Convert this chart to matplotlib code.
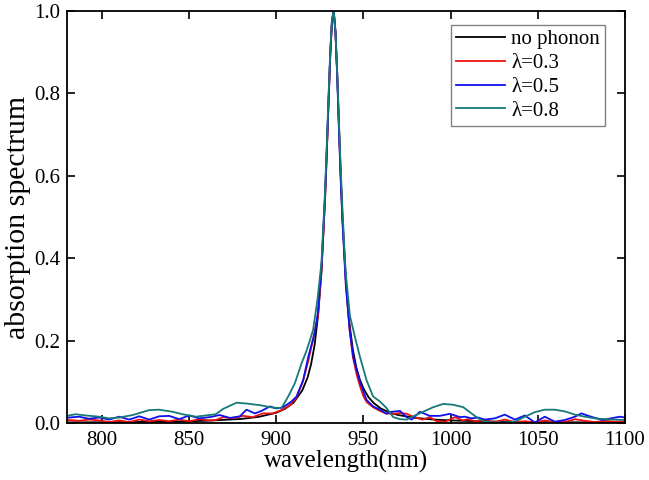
import numpy as np
import matplotlib.pyplot as plt

plt.rcParams['font.family'] = ['Liberation Serif', 'DejaVu Serif']

# no phonon (smooth)
wl_nophonon = [780, 800, 820, 840, 860, 880, 890, 900, 905, 910, 915, 918, 920, 922, 924, 926, 928,
               929, 930, 931, 932, 933, 934, 935, 936, 937, 938, 940, 942, 944, 946, 948, 950, 953,
               956, 960, 965, 970, 980, 990, 1000, 1020, 1050, 1075, 1100]
abs_nophonon = [0.0012, 0.0015, 0.0021, 0.0031, 0.0051, 0.0096, 0.0146, 0.0245, 0.034, 0.049, 0.079,
                0.11, 0.142, 0.188, 0.259, 0.369, 0.54, 0.652, 0.775, 0.893, 0.977, 1.0, 0.95, 0.848,
                0.725, 0.605, 0.5, 0.343, 0.242, 0.177, 0.134, 0.105, 0.084, 0.062, 0.048, 0.035,
                0.025, 0.019, 0.012, 0.0082, 0.006, 0.0035, 0.002, 0.0013, 0.001]

# lambda = 0.3
wl_03 = [780, 781.3, 787, 792.7, 798.5, 804.3, 810, 815.8, 821.5, 827.2, 833, 838.7, 844.4, 850.2,
         855.9, 861.6, 865.4, 869.6, 875.3, 881, 886.7, 892.4, 898.1, 903, 907.7, 911.5, 915.3,
         918.4, 921, 924, 926, 928, 929, 930, 931, 932, 933, 934, 935, 936, 937, 938, 940, 942,
         944, 946, 948, 950, 952, 955.6, 959, 963, 967, 971, 975, 979, 984, 988, 992, 997, 1002.5,
         1007, 1010, 1013.9, 1019.7, 1025.4, 1031.1, 1036.9, 1042.6, 1048.3, 1054, 1059.8, 1065.5,
         1071.3, 1077, 1082.7, 1088.5, 1094.2, 1100]
abs_03 = [0.006, 0.007, 0.005, 0.008, 0.006, 0.002, 0.006, 0.002, 0.008, 0.004, 0.007, 0.004, 0.008,
          0.004, 0.009, 0.006, 0.007, 0.014, 0.011, 0.017, 0.014, 0.023, 0.023, 0.031, 0.042, 0.06,
          0.1, 0.15, 0.2, 0.26, 0.37, 0.54, 0.65, 0.77, 0.89, 0.975, 1.0, 0.95, 0.85, 0.72, 0.6, 0.5,
          0.34, 0.23, 0.16, 0.12, 0.09, 0.065, 0.05, 0.038, 0.03, 0.023, 0.022, 0.024, 0.022, 0.014,
          0.008, 0.014, 0.004, 0.003, 0.014, 0.006, 0.009, 0.004, 0.006, 0.002, 0.008, 0.002, 0.004,
          0.001, 0.006, 0.002, 0.002, 0.009, 0.005, 0.002, 0.005, 0.003, 0.004]

# lambda = 0.5
wl_05 = [780, 781.3, 787, 792.7, 798.5, 804.3, 810, 815.8, 821.5, 827.2, 833, 838.7, 844.4, 850.2,
         855.9, 862, 867.7, 873.5, 879.2, 883, 887.8, 891.6, 896.4, 900.2, 904, 908.8, 911.7, 915.5,
         918.4, 920.3, 922.2, 924, 926, 928, 929, 930, 931, 932, 933, 934, 935, 936, 937, 938, 940,
         942.3, 944.2, 948, 951.8, 955.6, 959.5, 963.3, 966.2, 971, 974.8, 977.7, 982.4, 988.1,
         993.8, 999.6, 1005.3, 1008.2, 1012, 1015.8, 1019.7, 1025.4, 1031.1, 1036.9, 1042.6, 1048.3,
         1054, 1059.8, 1065.5, 1071.3, 1075, 1080.5, 1087, 1092, 1097, 1100]
abs_05 = [0.012, 0.013, 0.015, 0.010, 0.013, 0.008, 0.015, 0.008, 0.016, 0.008, 0.016, 0.017, 0.009,
          0.018, 0.011, 0.014, 0.019, 0.012, 0.016, 0.032, 0.023, 0.029, 0.040, 0.035, 0.038, 0.052,
          0.064, 0.104, 0.16, 0.19, 0.22, 0.27, 0.38, 0.55, 0.66, 0.78, 0.89, 0.975, 1.0, 0.95, 0.84,
          0.71, 0.59, 0.49, 0.33, 0.22, 0.16, 0.10, 0.056, 0.04, 0.032, 0.022, 0.027, 0.029, 0.014,
          0.008, 0.027, 0.017, 0.017, 0.022, 0.014, 0.015, 0.011, 0.013, 0.008, 0.011, 0.020, 0.008,
          0.018, 0.001, 0.015, 0.003, 0.007, 0.015, 0.023, 0.015, 0.007, 0.011, 0.015, 0.013]

# lambda = 0.8
wl_08 = [780, 781.3, 785, 790.9, 798.5, 804.3, 810, 817.7, 827.2, 832.9, 840.6, 846.3, 854, 861.6,
         865.4, 869.6, 877.3, 883, 890.7, 898.3, 903.1, 906.9, 910.7, 914.6, 917.4, 919.3, 921.2,
         923.7, 926, 928, 929, 930, 931, 932, 933, 934, 935, 936, 937, 938, 939.4, 940, 942.3,
         945.1, 948, 951.8, 955.6, 959.5, 963.3, 967.1, 971, 974.8, 978.6, 984.3, 990, 995.8,
         1001.5, 1007.3, 1012, 1015.8, 1019.7, 1025.4, 1031.1, 1036.9, 1042.6, 1048.3, 1054,
         1059.8, 1065.5, 1071.3, 1077, 1082.7, 1088.5, 1094.2, 1100]
abs_08 = [0.017, 0.018, 0.021, 0.018, 0.015, 0.011, 0.013, 0.019, 0.031, 0.032, 0.027, 0.021, 0.015,
          0.019, 0.021, 0.034, 0.049, 0.047, 0.043, 0.037, 0.036, 0.064, 0.096, 0.145, 0.175, 0.20,
          0.226, 0.30, 0.39, 0.56, 0.67, 0.79, 0.9, 0.98, 1.0, 0.95, 0.85, 0.73, 0.62, 0.52, 0.40,
          0.36, 0.26, 0.21, 0.161, 0.104, 0.064, 0.052, 0.036, 0.014, 0.009, 0.008, 0.016, 0.027,
          0.038, 0.046, 0.044, 0.038, 0.023, 0.011, 0.003, 0.001, 0.001, 0.003, 0.015, 0.026, 0.032,
          0.032, 0.028, 0.02, 0.015, 0.011, 0.009, 0.008, 0.007]

fig = plt.figure(figsize=(6.49, 4.8), dpi=100)
ax = fig.add_axes([0.103, 0.119, 0.86, 0.858])

ax.plot(wl_nophonon, abs_nophonon, color='black', lw=1.3, label='no phonon')
ax.plot(wl_03, abs_03, color='#ee1111', lw=1.3, label='λ=0.3')
ax.plot(wl_05, abs_05, color='#1010ee', lw=1.3, label='λ=0.5')
ax.plot(wl_08, abs_08, color='#167a78', lw=1.3, label='λ=0.8')

ax.set_xlim(780, 1100)
ax.set_ylim(0, 1.0)
ax.set_xticks(np.arange(800, 1101, 50))
ax.set_yticks(np.arange(0, 1.01, 0.2))
ax.yaxis.set_major_formatter(plt.FormatStrFormatter('%.1f'))
ax.tick_params(direction='in', top=True, right=True, length=6, width=1.2, labelsize=15)
ax.tick_params(axis='x', pad=6)
ax.tick_params(axis='y', pad=5)
for s in ax.spines.values():
    s.set_linewidth(1.3)

ax.set_xlabel('wavelength(nm)', fontsize=18, labelpad=0)
ax.set_ylabel('absorption spectrum', fontsize=21.5, labelpad=2)

leg = ax.legend(loc='upper right', bbox_to_anchor=(0.965, 0.967), borderaxespad=0,
                fontsize=15, fancybox=False, framealpha=1, edgecolor='#808080',
                handlelength=2.35, handletextpad=0.3, borderpad=0.25, labelspacing=0.2)
leg.get_frame().set_linewidth(1.0)

fig.savefig('out.png', dpi=100)
